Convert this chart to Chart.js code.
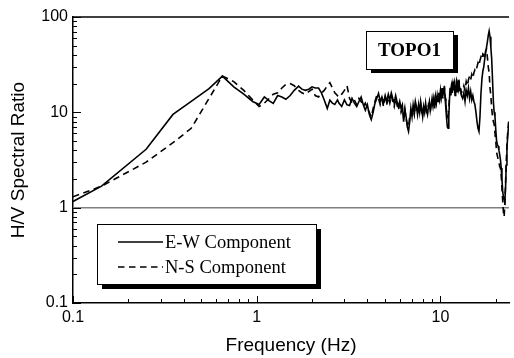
<!DOCTYPE html>
<html>
<head>
<meta charset="utf-8">
<script src="https://cdn.jsdelivr.net/npm/chart.js@4.4.1/dist/chart.umd.min.js"></script>
<style>
  body { margin: 0; background: #fff; }
  #wrap { width: 514px; height: 358px; }
</style>
</head>
<body>
<div id="wrap"><canvas id="hv-chart" width="514" height="358"></canvas></div>
<script>
// frequency (Hz), shared by both components
const freq = [
    0.1, 0.143, 0.25, 0.35, 0.44, 0.55, 0.65, 0.75, 0.85, 0.95,
    1.03, 1.1, 1.17, 1.23, 1.3, 1.37, 1.44, 1.52, 1.6, 1.69,
    1.76, 1.84, 1.92, 2.0, 2.08, 2.17, 2.25, 2.33, 2.42, 2.5,
    2.58, 2.66, 2.75,
    2.8, 2.9, 3.0, 3.1, 3.2, 3.3, 3.4, 3.5, 3.6, 3.7,
    3.8, 3.9, 4.0, 4.1, 4.2, 4.3, 4.4, 4.5, 4.6, 4.7,
    4.8, 4.9, 5.0, 5.1, 5.2, 5.3, 5.4, 5.5, 5.6, 5.7,
    5.8, 5.9, 6.0, 6.1, 6.2, 6.3, 6.4, 6.5, 6.6, 6.7,
    6.8, 6.9, 7.0, 7.1, 7.2, 7.3, 7.4, 7.5, 7.6, 7.7,
    7.8, 7.9, 8.0, 8.1, 8.2, 8.3, 8.4, 8.5, 8.6, 8.7,
    8.8, 8.9, 9.0, 9.1, 9.2, 9.3, 9.4, 9.5, 9.6, 9.7,
    9.8, 9.9, 10.0, 10.1, 10.2, 10.3, 10.4, 10.5, 10.6, 10.7,
    10.8, 10.9, 11.0, 11.1, 11.2, 11.3, 11.4, 11.5, 11.6, 11.7,
    11.8, 11.9, 12.0, 12.1, 12.2, 12.3, 12.4, 12.5, 12.6, 12.7,
    12.8, 12.9, 13.0,
    13.2, 13.4, 13.6, 13.8, 14.0, 14.2, 14.4, 14.6, 14.8, 15.0,
    15.2, 15.4, 15.6, 15.8, 16.0, 16.2, 16.4, 16.6, 16.8, 17.0,
    17.2, 17.4, 17.6, 17.8, 18.0, 18.2, 18.4, 18.6, 18.8, 19.0,
    19.2, 19.4, 19.6, 19.8, 20.0, 20.2, 20.4, 20.6, 20.8, 21.0,
    21.2, 21.4, 21.6, 21.8, 22.0, 22.2, 22.4, 22.6, 22.8, 23.0,
    23.2, 23.4, 23.6
];

// H/V ratio, E-W component (solid)
const ewRatio = [
    1.16, 1.68, 4.1, 9.5, 13, 17.7, 24, 18.5, 15.5, 13,
    12.1, 14.5, 13.2, 12.4, 15, 14.5, 13.7, 15, 17, 18.8,
    17.5, 17, 17.5, 18.5, 18, 18, 16, 13.5, 11, 13.4,
    12.5, 12.1, 13.5,
    12.5, 11.5, 13.5, 12, 11.8, 14, 12.5, 11.5, 13, 14.5,
    12, 10.5, 12, 9.5, 8.4, 10, 12.5, 14, 15.8, 13,
    14.5, 12.5, 15, 13, 15.5, 13.5, 16, 14, 12.5, 15,
    13, 11.5, 13, 11, 12, 8, 10.5, 9, 7, 6.3,
    8, 11, 9, 12, 10, 13, 11.5, 9.5, 12, 10,
    13, 11, 9, 11.5, 10, 12.5, 10.5, 9.5, 11.5, 13,
    10.5, 12, 14, 12, 13.5, 11, 14.5, 12.5, 15, 13,
    16, 14, 17, 14.5, 18, 15, 16.5, 19, 14, 11,
    8.5, 7, 6.8, 9, 14, 18, 15, 20, 16, 21,
    17, 19, 15, 18, 20, 16.5, 19, 17, 21, 18,
    17.8, 16, 15,
    14, 16, 13, 17, 15, 18, 14, 16.6, 13.5, 15,
    13, 12, 10, 8, 6.8, 6.3, 9, 15.5, 22, 27,
    30, 36, 42, 48, 55, 64, 71, 62, 48, 36,
    22, 13, 10, 9, 6.5, 5, 4.6, 4.4, 4, 3.6,
    3.2, 2.6, 2, 1.5, 1.3, 1.2, 1.15, 1.6, 2.8, 4.2,
    5.5, 6.8, 7.5
];

// H/V ratio, N-S component (dashed)
const nsRatio = [
    1.3, 1.68, 3.0, 4.8, 6.8, 14, 24, 21, 17, 13.5,
    11.5, 12.5, 14, 15.5, 16, 18, 19.6, 20, 19, 17,
    16, 15.5, 16.5, 17.5, 15, 14.5, 16, 17, 19, 20.5,
    18, 16, 15,
    16, 15.5, 17, 19, 14, 12.5, 13.5, 12, 14, 13,
    11.5, 12.5, 11, 10, 9, 11, 13, 15, 14, 12,
    13.5, 11.5, 14, 12, 14.5, 12.5, 15, 13, 11.5, 14,
    12, 10.5, 12, 10, 11, 9, 11, 8.5, 7.5, 7,
    9, 10, 10, 11, 9.5, 12, 10.5, 10, 11, 9.5,
    12, 10, 9.5, 11, 10.5, 12, 10, 10, 12, 11.5,
    10, 12.5, 13, 11.5, 14, 12, 13.5, 13, 14, 14.5,
    15, 13.5, 16, 15, 17, 14, 17.5, 18, 15, 12.5,
    10, 9, 9.5, 11, 15, 17, 16, 19, 17, 20,
    18, 20, 16, 19, 21, 18, 20, 18, 22, 19,
    18, 17, 16,
    17, 19, 17, 21, 19, 22, 24, 22, 25, 23,
    26, 28, 27, 30, 33, 31, 35, 38, 36, 41,
    40, 37, 44, 46, 38, 30, 26, 18, 15, 11,
    9, 8, 7.5, 6, 5, 3.8, 3.5, 3.2, 3, 2.7,
    2.6, 2.2, 1.6, 1.2, 0.9, 0.8, 1.1, 1.8, 3, 4.5,
    6, 7.5, 8.5
];

const seriesNames = ['E-W Component', 'N-S Component'];
const siteName = 'TOPO1';

// tick marks
const xMajor = [0.1, 1, 10];
const xMinor = [0.2, 0.3, 0.4, 0.5, 0.6, 0.7, 0.8, 0.9, 2, 3, 4, 5, 6, 7, 8, 9, 20];
const yMajor = [0.1, 1, 10, 100];
const yMinor = [0.2, 0.3, 0.4, 0.5, 0.6, 0.7, 0.8, 0.9, 2, 3, 4, 5, 6, 7, 8, 9,
    20, 30, 40, 50, 60, 70, 80, 90];

const SANS = "'Liberation Sans', Arial, sans-serif";
const SERIF = "'Liberation Serif', 'Times New Roman', serif";
const DASH = [6.5, 4.5];

function isDecade(v) {
    const l = Math.log10(v);
    return Math.abs(l - Math.round(l)) < 1e-6;
}

function decadeLabel(v) {
    return isDecade(v) ? String(+v.toPrecision(3)) : '';
}

function shadowBox(ctx, x, y, w, h, dx, dy) {
    ctx.fillStyle = '#000';
    ctx.fillRect(x + dx, y + dy, w, h);
    ctx.fillStyle = '#fff';
    ctx.fillRect(x, y, w, h);
    ctx.strokeStyle = '#000';
    ctx.lineWidth = 1;
    ctx.strokeRect(x + 0.5, y + 0.5, w, h);
}

// frame, inward ticks and the unit line
const framePlugin = {
    id: 'frame',
    beforeDatasetsDraw(chart) {
        const { ctx, chartArea: a, scales: { y } } = chart;
        const y1 = y.getPixelForValue(1);
        ctx.save();
        ctx.strokeStyle = '#808080';
        ctx.lineWidth = 1.5;
        ctx.beginPath();
        ctx.moveTo(a.left, y1);
        ctx.lineTo(a.right, y1);
        ctx.stroke();
        ctx.restore();
    },
    afterDatasetsDraw(chart) {
        const { ctx, chartArea: a, scales: { x, y } } = chart;
        ctx.save();
        ctx.strokeStyle = '#000';
        ctx.lineWidth = 1.5;
        ctx.beginPath();
        ctx.moveTo(a.left, a.top);
        ctx.lineTo(a.right, a.top);
        ctx.stroke();

        ctx.lineWidth = 1;
        ctx.beginPath();
        xMajor.concat(xMinor).forEach(v => {
            const px = Math.round(x.getPixelForValue(v)) + 0.5;
            const len = xMajor.includes(v) ? 7 : 4;
            ctx.moveTo(px, a.bottom);
            ctx.lineTo(px, a.bottom - len);
        });
        yMajor.concat(yMinor).forEach(v => {
            const py = Math.round(y.getPixelForValue(v)) + 0.5;
            const len = yMajor.includes(v) ? 8 : 4;
            ctx.moveTo(a.left, py);
            ctx.lineTo(a.left + len, py);
        });
        ctx.stroke();
        ctx.restore();
    },
    afterDraw(chart) {
        const ctx = chart.ctx;
        ctx.save();

        // site label
        shadowBox(ctx, 366, 31, 87, 38, 5, 4);
        ctx.fillStyle = '#000';
        ctx.font = 'bold 19px ' + SERIF;
        ctx.textAlign = 'center';
        ctx.textBaseline = 'middle';
        ctx.fillText(siteName, 366 + 87 / 2, 51);

        // legend
        shadowBox(ctx, 97, 224, 219, 60, 5, 5);
        ctx.fillStyle = '#000';
        ctx.font = '18.5px ' + SERIF;
        ctx.textAlign = 'left';
        ctx.textBaseline = 'middle';
        ctx.strokeStyle = '#000';
        ctx.lineWidth = 1.6;
        const rows = [242, 267];
        chart.data.datasets.forEach((ds, i) => {
            ctx.setLineDash(ds.borderDash || []);
            ctx.beginPath();
            ctx.moveTo(118, rows[i]);
            ctx.lineTo(163, rows[i]);
            ctx.stroke();
            ctx.setLineDash([]);
            ctx.fillText(ds.label, 165, rows[i] + 1);
        });
        ctx.restore();
    }
};

const ctx = document.getElementById('hv-chart').getContext('2d');
new Chart(ctx, {
    type: 'line',
    data: {
        datasets: [
            {
                label: seriesNames[0],
                data: freq.map((f, i) => ({ x: f, y: ewRatio[i] })),
                borderColor: '#000',
                borderWidth: 1.6,
                pointRadius: 0,
                tension: 0
            },
            {
                label: seriesNames[1],
                data: freq.map((f, i) => ({ x: f, y: nsRatio[i] })),
                borderColor: '#000',
                borderWidth: 1.6,
                borderDash: DASH,
                pointRadius: 0,
                tension: 0
            }
        ]
    },
    options: {
        responsive: false,
        animation: false,
        devicePixelRatio: 1,
        layout: { padding: { top: 17, right: 0, left: 0, bottom: 0 } },
        plugins: {
            legend: { display: false },
            tooltip: { enabled: false }
        },
        scales: {
            x: {
                type: 'logarithmic',
                min: 0.1,
                max: 23.6,
                grid: { display: false, drawTicks: false },
                border: { display: true, color: '#000', width: 1.5 },
                ticks: {
                    autoSkip: false,
                    maxRotation: 0,
                    padding: 5,
                    color: '#000',
                    font: { family: SANS, size: 16 },
                    callback: v => decadeLabel(v)
                },
                title: {
                    display: true,
                    text: 'Frequency (Hz)',
                    color: '#000',
                    font: { family: SANS, size: 19 },
                    padding: { top: 0, bottom: 1 }
                },
                afterFit(scale) { scale.height = 55; }
            },
            y: {
                type: 'logarithmic',
                min: 0.1,
                max: 100,
                grid: { display: false, drawTicks: false },
                border: { display: true, color: '#000', width: 1.5 },
                ticks: {
                    autoSkip: false,
                    padding: 5,
                    color: '#000',
                    font: { family: SANS, size: 16 },
                    callback: v => decadeLabel(v)
                },
                title: {
                    display: true,
                    text: 'H/V Spectral Ratio',
                    color: '#000',
                    font: { family: SANS, size: 19 },
                    padding: { top: 7, bottom: 0 }
                },
                afterFit(scale) { scale.width = 73; }
            }
        }
    },
    plugins: [framePlugin]
});
</script>
</body>
</html>
